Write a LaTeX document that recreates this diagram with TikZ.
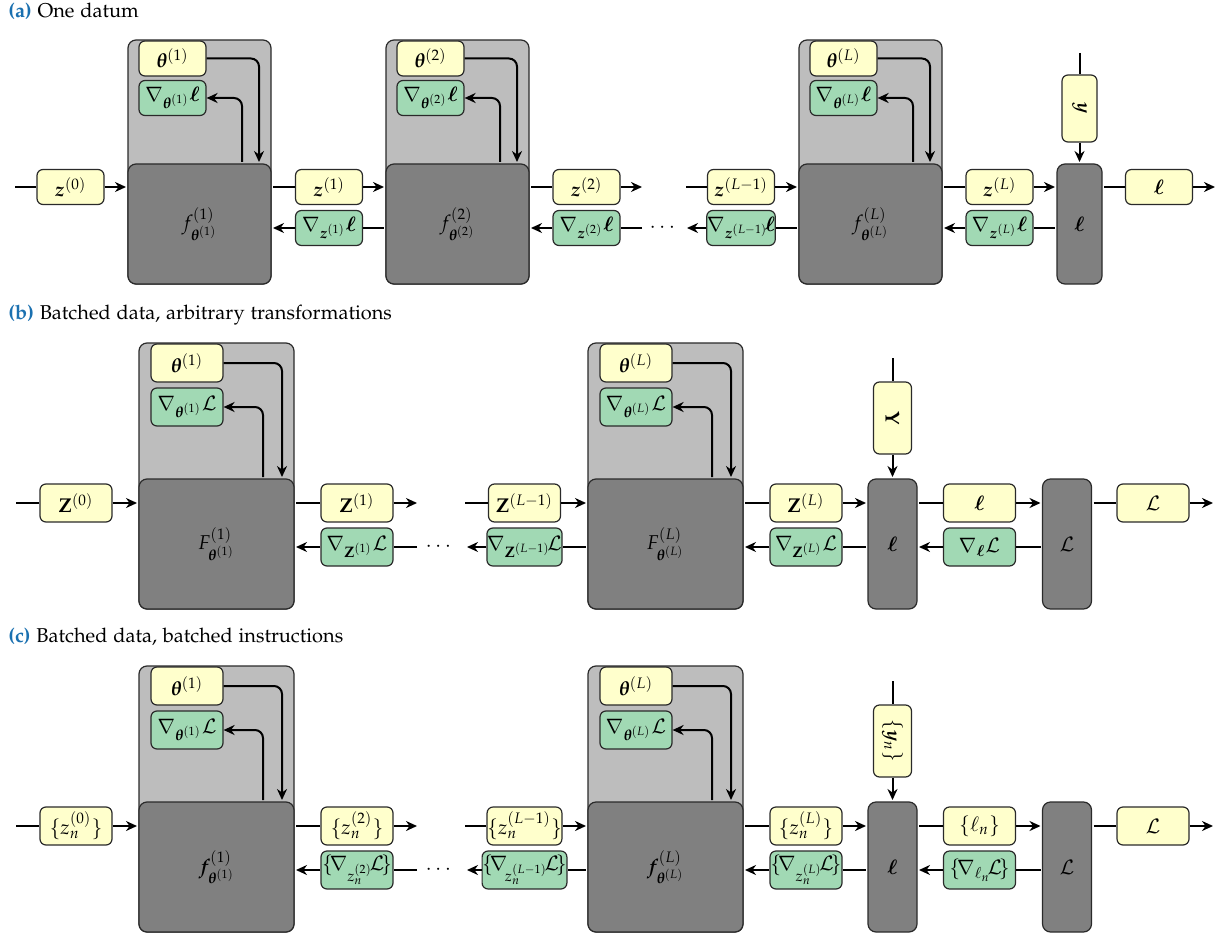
\documentclass[tikz,border=0pt]{standalone}
\usepackage[T1]{fontenc}
\usepackage{amsmath,amssymb}
\usepackage[sc]{mathpazo}
\usepackage{bm}
\usepackage{xcolor}
\usetikzlibrary{arrows.meta,positioning}
\definecolor{valfill}{HTML}{FFFFCC}
\definecolor{gradfill}{HTML}{A1D9B4}
\definecolor{paramfill}{HTML}{BDBDBD}
\definecolor{opfill}{HTML}{808080}
\definecolor{edgegray}{HTML}{2A2A2A}
\definecolor{capblue}{HTML}{1A70B0}
\tikzset{
  valnode/.style={draw=edgegray,fill=valfill,line width=0.6pt,rounded corners=3pt,
                  inner sep=0pt},
  gradnode/.style={valnode,fill=gradfill},
  sizeA/.style={minimum width=33.5pt,minimum height=17.5pt},
  sizeB/.style={minimum width=36pt,minimum height=19pt},
  parambox/.style={draw=edgegray,fill=paramfill,line width=0.6pt,rounded corners=4pt,
                   inner sep=0pt},
  opbox/.style={draw=edgegray,fill=opfill,line width=0.6pt,rounded corners=4pt,
                inner sep=0pt,outer sep=1pt},
  paramA/.style={parambox,minimum width=71.5pt,minimum height=122pt},
  paramB/.style={parambox,minimum width=77.5pt,minimum height=133pt},
  opA/.style={opbox,minimum width=71.5pt,minimum height=60pt},
  opB/.style={opbox,minimum width=77.5pt,minimum height=65pt},
  lossA/.style={opbox,minimum width=22.5pt,minimum height=60pt},
  lossB/.style={opbox,minimum width=24.5pt,minimum height=65pt},
  link/.style={line width=1pt},
  flow/.style={link,-{Stealth[length=5.5pt,width=5pt]}},
  turnflow/.style={flow,rounded corners=4pt},
  panelcap/.style={anchor=base west,inner sep=0pt}
}

\begin{document}
\begin{tikzpicture}[x=0.5pt,y=-0.5pt]
  \path[use as bounding box] (0,0) rectangle (1220,936);

  % (a) one datum
  \node[panelcap] (a-cap) at (8,18) {\textcolor{capblue}{\textbf{(a)}} One datum};
  \node[paramA] (a-p1) at (199.5,162) {};
  \node[valnode,sizeA] (a-th1) at (172.5,58.5) {$\bm{\theta}^{(1)}$};
  \node[gradnode,sizeA] (a-gt1) at (172.5,98) {$\nabla_{\bm{\theta}^{(1)}}\bm{\ell}$};
  \node[opA] (a-f1) at (199.5,224) {$f^{(1)}_{\bm{\theta}^{(1)}}$};
  \node[paramA] (a-p2) at (457.5,162) {};
  \node[valnode,sizeA] (a-th2) at (430.5,58.5) {$\bm{\theta}^{(2)}$};
  \node[gradnode,sizeA] (a-gt2) at (430.5,98) {$\nabla_{\bm{\theta}^{(2)}}\bm{\ell}$};
  \node[opA] (a-f2) at (457.5,224) {$f^{(2)}_{\bm{\theta}^{(2)}}$};
  \node[paramA] (a-pL) at (870.5,162) {};
  \node[valnode,sizeA] (a-thL) at (843.5,58.5) {$\bm{\theta}^{(L)}$};
  \node[gradnode,sizeA] (a-gtL) at (843.5,98) {$\nabla_{\bm{\theta}^{(L)}}\bm{\ell}$};
  \node[opA] (a-fL) at (870.5,224) {$f^{(L)}_{\bm{\theta}^{(L)}}$};
  \node[lossA] (a-loss) at (1079.5,224) {$\bm{\ell}$};

  \coordinate (a-in) at (15,187);
  \node[valnode,sizeA] (a-z0) at (70.5,187) {$\bm{z}^{(0)}$};
  \node[valnode,sizeA] (a-z1) at (329,187) {$\bm{z}^{(1)}$};
  \node[gradnode,sizeA] (a-gz1) at (329,228) {$\nabla_{\bm{z}^{(1)}}\bm{\ell}$};
  \node[valnode,sizeA] (a-z2) at (586.5,187) {$\bm{z}^{(2)}$};
  \node[gradnode,sizeA] (a-gz2) at (586.5,228) {$\nabla_{\bm{z}^{(2)}}\bm{\ell}$};
  \coordinate (a-out2) at (642,187);
  \coordinate (a-back2) at (642,228);
  \node (a-dots) at (664,228) {$\cdots$};
  \coordinate (a-inLm) at (686,187);
  \coordinate (a-backLm) at (687,228);
  \node[valnode,sizeA] (a-zLm) at (741,187) {$\bm{z}^{(L-1)}$};
  \node[gradnode,sizeA] (a-gzLm) at (741,228) {$\nabla_{\bm{z}^{(L-1)}}\!\bm{\ell}$};
  \node[valnode,sizeA] (a-zL) at (999.5,187) {$\bm{z}^{(L)}$};
  \node[gradnode,sizeA] (a-gzL) at (999.5,228) {$\nabla_{\bm{z}^{(L)}}\bm{\ell}$};
  \coordinate (a-yin) at (1079.5,53);
  \node[valnode,sizeA,rotate=-90] (a-y) at (1079.5,108.5) {$\bm{y}$};
  \node[valnode,sizeA] (a-l) at (1159,187) {$\bm{\ell}$};
  \coordinate (a-out) at (1215,187);

  \draw[turnflow] (a-th1.east) -| ([xshift=29.75pt]a-f1.north);
  \draw[turnflow] ([xshift=21.25pt]a-f1.north) |- (a-gt1.east);
  \draw[turnflow] (a-th2.east) -| ([xshift=29.75pt]a-f2.north);
  \draw[turnflow] ([xshift=21.25pt]a-f2.north) |- (a-gt2.east);
  \draw[turnflow] (a-thL.east) -| ([xshift=29.75pt]a-fL.north);
  \draw[turnflow] ([xshift=21.25pt]a-fL.north) |- (a-gtL.east);

  \draw[link] (a-in) -- (a-z0.west);
  \draw[flow] (a-z0.east) -- (a-z0.east -| a-f1.west);
  \draw[link] (a-z1.west -| a-f1.east) -- (a-z1.west);
  \draw[flow] (a-z1.east) -- (a-z1.east -| a-f2.west);
  \draw[link] (a-gz1.east) -- (a-gz1.east -| a-f2.west);
  \draw[flow] (a-gz1.west) -- (a-gz1.west -| a-f1.east);
  \draw[link] (a-z2.west -| a-f2.east) -- (a-z2.west);
  \draw[flow] (a-z2.east) -- (a-out2);
  \draw[link] (a-back2) -- (a-gz2.east);
  \draw[flow] (a-gz2.west) -- (a-gz2.west -| a-f2.east);
  \draw[link] (a-inLm) -- (a-zLm.west);
  \draw[flow] (a-zLm.east) -- (a-zLm.east -| a-fL.west);
  \draw[link] (a-gzLm.east -| a-fL.west) -- (a-gzLm.east);
  \draw[flow] (a-gzLm.west) -- (a-backLm);
  \draw[link] (a-zL.west -| a-fL.east) -- (a-zL.west);
  \draw[flow] (a-zL.east) -- (a-zL.east -| a-loss.west);
  \draw[link] (a-gzL.east -| a-loss.west) -- (a-gzL.east);
  \draw[flow] (a-gzL.west) -- (a-gzL.west -| a-fL.east);
  \draw[link] (a-yin) -- (a-y.west);
  \draw[flow] (a-y.east) -- (a-y.east |- a-loss.north);
  \draw[link] (a-l.west -| a-loss.east) -- (a-l.west);
  \draw[flow] (a-l.east) -- (a-out);

  % (b) batched data, arbitrary transformations
  \node[panelcap] (b-cap) at (8,319)
    {\textcolor{capblue}{\textbf{(b)}} Batched data, arbitrary transformations};
  \node[paramB] (b-p1) at (216.5,476) {};
  \node[valnode,sizeB] (b-th1) at (187,363) {$\bm{\theta}^{(1)}$};
  \node[gradnode,sizeB] (b-gt1) at (187,407) {$\nabla_{\bm{\theta}^{(1)}}\mathcal{L}$};
  \node[opB] (b-f1) at (216.5,544) {$F^{(1)}_{\bm{\theta}^{(1)}}$};
  \node[paramB] (b-pL) at (665.5,476) {};
  \node[valnode,sizeB] (b-thL) at (636,363) {$\bm{\theta}^{(L)}$};
  \node[gradnode,sizeB] (b-gtL) at (636,407) {$\nabla_{\bm{\theta}^{(L)}}\mathcal{L}$};
  \node[opB] (b-fL) at (665.5,544) {$F^{(L)}_{\bm{\theta}^{(L)}}$};
  \node[lossB] (b-loss) at (892.5,544) {$\bm{\ell}$};
  \node[lossB] (b-sum) at (1067,544) {$\mathcal{L}$};

  \coordinate (b-in) at (16,503);
  \node[valnode,sizeB] (b-z0) at (76,503) {$\mathbf{Z}^{(0)}$};
  \node[valnode,sizeB] (b-z1) at (357,503) {$\mathbf{Z}^{(1)}$};
  \node[gradnode,sizeB] (b-gz1) at (357,547) {$\nabla_{\mathbf{Z}^{(1)}}\mathcal{L}$};
  \coordinate (b-out1) at (417,503);
  \coordinate (b-back1) at (417,547);
  \node (b-dots) at (440,547) {$\cdots$};
  \coordinate (b-inLm) at (465,503);
  \coordinate (b-backLm) at (467,547);
  \node[valnode,sizeB] (b-zLm) at (524.5,503) {$\mathbf{Z}^{(L-1)}$};
  \node[gradnode,sizeB] (b-gzLm) at (524.5,547) {$\nabla_{\mathbf{Z}^{(L-1)}}\!\mathcal{L}$};
  \node[valnode,sizeB] (b-zL) at (806,503) {$\mathbf{Z}^{(L)}$};
  \node[gradnode,sizeB] (b-gzL) at (806,547) {$\nabla_{\mathbf{Z}^{(L)}}\mathcal{L}$};
  \coordinate (b-yin) at (892.5,358);
  \node[valnode,sizeB,rotate=-90] (b-y) at (892.5,418) {$\mathbf{Y}$};
  \node[valnode,sizeB] (b-l) at (979.5,503) {$\bm{\ell}$};
  \node[gradnode,sizeB] (b-gl) at (979.5,547) {$\nabla_{\bm{\ell}}\mathcal{L}$};
  \node[valnode,sizeB] (b-L) at (1153,503) {$\mathcal{L}$};
  \coordinate (b-out) at (1213,503);

  \draw[turnflow] (b-th1.east) -| ([xshift=32.75pt]b-f1.north);
  \draw[turnflow] ([xshift=23.25pt]b-f1.north) |- (b-gt1.east);
  \draw[turnflow] (b-thL.east) -| ([xshift=32.75pt]b-fL.north);
  \draw[turnflow] ([xshift=23.25pt]b-fL.north) |- (b-gtL.east);

  \draw[link] (b-in) -- (b-z0.west);
  \draw[flow] (b-z0.east) -- (b-z0.east -| b-f1.west);
  \draw[link] (b-z1.west -| b-f1.east) -- (b-z1.west);
  \draw[flow] (b-z1.east) -- (b-out1);
  \draw[link] (b-back1) -- (b-gz1.east);
  \draw[flow] (b-gz1.west) -- (b-gz1.west -| b-f1.east);
  \draw[link] (b-inLm) -- (b-zLm.west);
  \draw[flow] (b-zLm.east) -- (b-zLm.east -| b-fL.west);
  \draw[link] (b-gzLm.east -| b-fL.west) -- (b-gzLm.east);
  \draw[flow] (b-gzLm.west) -- (b-backLm);
  \draw[link] (b-zL.west -| b-fL.east) -- (b-zL.west);
  \draw[flow] (b-zL.east) -- (b-zL.east -| b-loss.west);
  \draw[link] (b-gzL.east -| b-loss.west) -- (b-gzL.east);
  \draw[flow] (b-gzL.west) -- (b-gzL.west -| b-fL.east);
  \draw[link] (b-yin) -- (b-y.west);
  \draw[flow] (b-y.east) -- (b-y.east |- b-loss.north);
  \draw[link] (b-l.west -| b-loss.east) -- (b-l.west);
  \draw[flow] (b-l.east) -- (b-l.east -| b-sum.west);
  \draw[link] (b-gl.east -| b-sum.west) -- (b-gl.east);
  \draw[flow] (b-gl.west) -- (b-gl.west -| b-loss.east);
  \draw[link] (b-L.west -| b-sum.east) -- (b-L.west);
  \draw[flow] (b-L.east) -- (b-out);

  % (c) batched data, batched instructions
  \node[panelcap] (c-cap) at (8,642)
    {\textcolor{capblue}{\textbf{(c)}} Batched data, batched instructions};
  \node[paramB] (c-p1) at (216.5,799) {};
  \node[valnode,sizeB] (c-th1) at (187,686) {$\bm{\theta}^{(1)}$};
  \node[gradnode,sizeB] (c-gt1) at (187,730) {$\nabla_{\bm{\theta}^{(1)}}\mathcal{L}$};
  \node[opB] (c-f1) at (216.5,867) {$\bm{f}^{(1)}_{\bm{\theta}^{(1)}}$};
  \node[paramB] (c-pL) at (665.5,799) {};
  \node[valnode,sizeB] (c-thL) at (636,686) {$\bm{\theta}^{(L)}$};
  \node[gradnode,sizeB] (c-gtL) at (636,730) {$\nabla_{\bm{\theta}^{(L)}}\mathcal{L}$};
  \node[opB] (c-fL) at (665.5,867) {$\bm{f}^{(L)}_{\bm{\theta}^{(L)}}$};
  \node[lossB] (c-loss) at (892.5,867) {$\bm{\ell}$};
  \node[lossB] (c-sum) at (1067,867) {$\mathcal{L}$};

  \coordinate (c-in) at (16,826);
  \node[valnode,sizeB] (c-z0) at (76,826) {$\{z_n^{(0)}\}$};
  \node[valnode,sizeB] (c-z1) at (357,826) {$\{z_n^{(2)}\}$};
  \node[gradnode,sizeB] (c-gz1) at (357,870) {$\{\!\nabla_{z_n^{(2)}}\!\mathcal{L}\!\}$};
  \coordinate (c-out1) at (417,826);
  \coordinate (c-back1) at (417,870);
  \node (c-dots) at (440,870) {$\cdots$};
  \coordinate (c-inLm) at (465,826);
  \coordinate (c-backLm) at (467,870);
  \node[valnode,sizeB] (c-zLm) at (524.5,826) {$\{z_n^{(L-1)}\}$};
  \node[gradnode,sizeB] (c-gzLm) at (524.5,870) {$\{\!\nabla_{\!z_n^{(L-1)}}\!\mathcal{L}\!\}$};
  \node[valnode,sizeB] (c-zL) at (806,826) {$\{z_n^{(L)}\}$};
  \node[gradnode,sizeB] (c-gzL) at (806,870) {$\{\!\nabla_{z_n^{(L)}}\!\mathcal{L}\!\}$};
  \coordinate (c-yin) at (892.5,681);
  \node[valnode,sizeB,rotate=-90] (c-y) at (892.5,741) {$\{\bm{y}_n\}$};
  \node[valnode,sizeB] (c-l) at (979.5,826) {$\{\ell_n\}$};
  \node[gradnode,sizeB] (c-gl) at (979.5,870) {$\{\!\nabla_{\ell_n}\!\mathcal{L}\!\}$};
  \node[valnode,sizeB] (c-L) at (1153,826) {$\mathcal{L}$};
  \coordinate (c-out) at (1213,826);

  \draw[turnflow] (c-th1.east) -| ([xshift=32.75pt]c-f1.north);
  \draw[turnflow] ([xshift=23.25pt]c-f1.north) |- (c-gt1.east);
  \draw[turnflow] (c-thL.east) -| ([xshift=32.75pt]c-fL.north);
  \draw[turnflow] ([xshift=23.25pt]c-fL.north) |- (c-gtL.east);

  \draw[link] (c-in) -- (c-z0.west);
  \draw[flow] (c-z0.east) -- (c-z0.east -| c-f1.west);
  \draw[link] (c-z1.west -| c-f1.east) -- (c-z1.west);
  \draw[flow] (c-z1.east) -- (c-out1);
  \draw[link] (c-back1) -- (c-gz1.east);
  \draw[flow] (c-gz1.west) -- (c-gz1.west -| c-f1.east);
  \draw[link] (c-inLm) -- (c-zLm.west);
  \draw[flow] (c-zLm.east) -- (c-zLm.east -| c-fL.west);
  \draw[link] (c-gzLm.east -| c-fL.west) -- (c-gzLm.east);
  \draw[flow] (c-gzLm.west) -- (c-backLm);
  \draw[link] (c-zL.west -| c-fL.east) -- (c-zL.west);
  \draw[flow] (c-zL.east) -- (c-zL.east -| c-loss.west);
  \draw[link] (c-gzL.east -| c-loss.west) -- (c-gzL.east);
  \draw[flow] (c-gzL.west) -- (c-gzL.west -| c-fL.east);
  \draw[link] (c-yin) -- (c-y.west);
  \draw[flow] (c-y.east) -- (c-y.east |- c-loss.north);
  \draw[link] (c-l.west -| c-loss.east) -- (c-l.west);
  \draw[flow] (c-l.east) -- (c-l.east -| c-sum.west);
  \draw[link] (c-gl.east -| c-sum.west) -- (c-gl.east);
  \draw[flow] (c-gl.west) -- (c-gl.west -| c-loss.east);
  \draw[link] (c-L.west -| c-sum.east) -- (c-L.west);
  \draw[flow] (c-L.east) -- (c-out);
\end{tikzpicture}
\end{document}
